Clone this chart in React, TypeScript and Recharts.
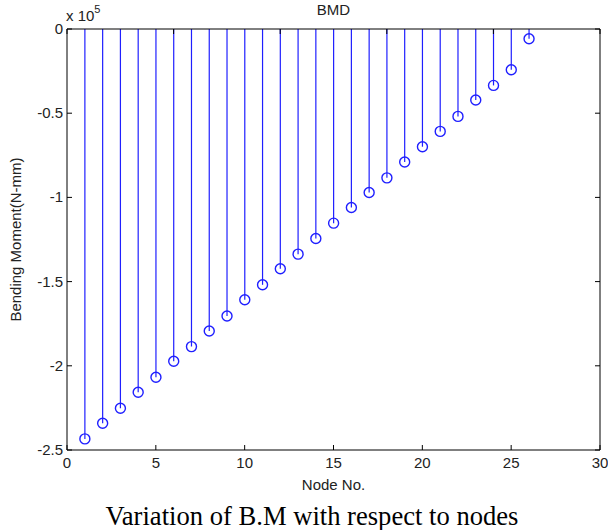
import React from "react";
import { Bar, ComposedChart, Label, XAxis, YAxis } from "recharts";

// Bending moment at each node, in units of 1e5 N-mm
const nodes = [
  1, 2, 3, 4, 5, 6, 7, 8, 9, 10, 11, 12, 13, 14, 15, 16, 17, 18, 19, 20, 21, 22,
  23, 24, 25, 26,
];
const moments = [
  -2.434, -2.341, -2.252, -2.157, -2.068, -1.973, -1.886, -1.793, -1.704,
  -1.608, -1.519, -1.424, -1.337, -1.244, -1.153, -1.06, -0.971, -0.884,
  -0.79, -0.699, -0.608, -0.519, -0.422, -0.335, -0.242, -0.058,
];
const xTicks = [0, 5, 10, 15, 20, 25, 30];
const yTicks = [0, -0.5, -1, -1.5, -2, -2.5];

const data = nodes.map((node, i) => ({ node, moment: moments[i] }));

const FONT = "'Liberation Sans', Arial, sans-serif";
const TEXT = "#222";
const STEM = "#1f1fff";
const TICK_LEN = 5;

// stem: thin line from zero to the value, open circle at the tip
function Stem(props: any) {
  const { x, y, width, height } = props;
  const cx = x + width / 2;
  const top = Math.min(y, y + height);
  const bottom = Math.max(y, y + height);
  return (
    <g>
      <line x1={cx} y1={top} x2={cx} y2={bottom} stroke={STEM} strokeWidth={1.2} />
      <circle cx={cx} cy={bottom} r={5} fill="none" stroke={STEM} strokeWidth={1.4} />
    </g>
  );
}

function BottomTick({ x, y, payload }: any) {
  return (
    <g>
      <line x1={x} y1={y} x2={x} y2={y - TICK_LEN} stroke="#000" />
      <text x={x} y={y + 18} textAnchor="middle" fontSize={15} fontFamily={FONT} fill={TEXT}>
        {payload.value}
      </text>
    </g>
  );
}

function TopTick({ x, y }: any) {
  return <line x1={x} y1={y} x2={x} y2={y + TICK_LEN} stroke="#000" />;
}

function LeftTick({ x, y, payload }: any) {
  return (
    <g>
      <line x1={x} y1={y} x2={x + TICK_LEN} y2={y} stroke="#000" />
      <text x={x - 4} y={y + 5} textAnchor="end" fontSize={15} fontFamily={FONT} fill={TEXT}>
        {payload.value}
      </text>
    </g>
  );
}

function RightTick({ x, y }: any) {
  return <line x1={x} y1={y} x2={x - TICK_LEN} y2={y} stroke="#000" />;
}

export default function App() {
  return (
    <div style={{ position: "absolute", left: 0, top: 0, width: 608, height: 530, background: "#fff" }}>
      <ComposedChart
        width={608}
        height={500}
        data={data}
        margin={{ top: 28, right: 7, bottom: 0, left: 0 }}
      >
        <XAxis
          dataKey="node"
          type="number"
          domain={[0, 30]}
          ticks={xTicks}
          allowDataOverflow
          height={50}
          stroke="#000"
          tickLine={false}
          tickSize={0}
          tickMargin={0}
          tick={<BottomTick />}
        >
          <Label
            content={({ viewBox }: any) => (
              <text
                x={viewBox.x + viewBox.width / 2}
                y={viewBox.y + 40}
                textAnchor="middle"
                fontSize={15}
                fontFamily={FONT}
                fill={TEXT}
              >
                Node No.
              </text>
            )}
          />
        </XAxis>
        <XAxis
          xAxisId="top"
          orientation="top"
          type="number"
          domain={[0, 30]}
          ticks={xTicks}
          allowDataOverflow
          height={1}
          stroke="#000"
          tickLine={false}
          tickSize={0}
          tickMargin={0}
          tick={<TopTick />}
        >
          <Label
            content={({ viewBox }: any) => (
              <text
                x={viewBox.x + viewBox.width / 2}
                y={viewBox.y - 13}
                textAnchor="middle"
                fontSize={15}
                fontFamily={FONT}
                fill={TEXT}
              >
                BMD
              </text>
            )}
          />
        </XAxis>
        <YAxis
          type="number"
          domain={[-2.5, 0]}
          ticks={yTicks}
          allowDataOverflow
          width={67}
          stroke="#000"
          tickLine={false}
          tickSize={0}
          tickMargin={0}
          tick={<LeftTick />}
        >
          <Label
            content={({ viewBox }: any) => {
              const cy = viewBox.y + viewBox.height / 2;
              return (
                <text
                  x={15}
                  y={cy}
                  transform={`rotate(-90 15 ${cy})`}
                  textAnchor="middle"
                  dominantBaseline="central"
                  fontSize={15}
                  fontFamily={FONT}
                  fill={TEXT}
                >
                  Bending Moment(N-mm)
                </text>
              );
            }}
          />
          <Label
            content={({ viewBox }: any) => (
              <text x={viewBox.x + viewBox.width - 1} y={viewBox.y - 8} fontSize={15} fontFamily={FONT} fill={TEXT}>
                x 10
                <tspan dy={-8} fontSize={11}>
                  5
                </tspan>
              </text>
            )}
          />
        </YAxis>
        <YAxis
          yAxisId="right"
          orientation="right"
          type="number"
          domain={[-2.5, 0]}
          ticks={yTicks}
          allowDataOverflow
          width={1}
          stroke="#000"
          tickLine={false}
          tickSize={0}
          tickMargin={0}
          tick={<RightTick />}
        />
        <Bar dataKey="moment" barSize={10} fill={STEM} shape={<Stem />} isAnimationActive={false} />
      </ComposedChart>
      <div
        style={{
          position: "absolute",
          left: 8,
          width: 608,
          top: 501,
          textAlign: "center",
          fontFamily: "'Liberation Serif', 'Times New Roman', serif",
          fontSize: 26.6,
          color: "#000",
          lineHeight: "30px",
        }}
      >
        Variation of B.M with respect to nodes
      </div>
    </div>
  );
}
